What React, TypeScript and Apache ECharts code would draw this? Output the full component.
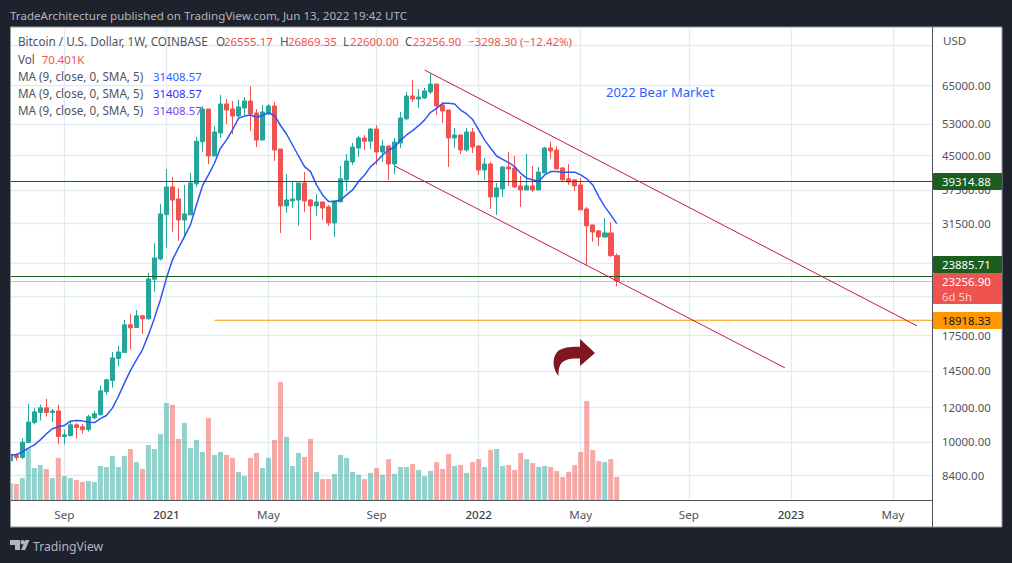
import React, { useEffect, useRef } from "react";
import * as echarts from "echarts";

// [open, close, low, high], one row per week from 2020-07-06
const ohlc: number[][] = [
  [9050,9340,9000,9490],[9320,9210,9060,9420],[9210,9980,9140,10190],[9960,11090,9930,12200],[11060,11700,10950,11930],
  [11660,11950,11180,12140],[11950,11660,11420,12530],[11660,11760,11090,11880],[11760,10280,9860,12140],[10280,10370,9860,10650],
  [10330,10930,10280,11180],[10930,10780,10170,11030],[10820,10660,10440,10990],[10660,11400,10550,11520],[11340,11580,11240,11760],
  [11520,13060,11480,13410],[13020,13840,12810,13920],[13790,15530,13290,16020],[15480,16020,14840,16540],[15970,18470,15970,18960],
  [18470,18180,16220,19560],[18210,19360,18210,19970],[19360,19060,17610,19460],[19060,23500,18960,24250],[23460,26240,21980,28340],
  [26100,33050,25870,34830],[32930,38080,27690,41800],[38080,35560,30070,40130],[35750,32020,28680,37880],[32020,33050,29180,38480],
  [32880,38880,32880,40980],[38680,48420,38080,49490],[48250,57310,45750,58230],[57310,44790,42950,57310],[44790,50800,44790,52420],
  [50540,58840,49230,61680],[58840,57000,52980,60400],[57310,55250,50270,59780],[55250,57930,54420,60090],[57620,59780,55540,61030],
  [59780,55840,51080,64660],[56130,48690,46950,57310],[48690,56430,48690,58530],[56130,58230,55540,58840],[58230,46220,43640,59470],
  [46450,34470,29910,46450],[34470,35560,33230,40760],[35380,35750,34100,39310],[35560,38880,31040,38880],[38880,35380,33400,41170],
  [35560,34470,28840,35750],[34470,35200,32710,36700],[35200,34100,32020,35200],[34280,31530,31040,34650],[31530,35380,29290,35380],
  [35200,39730,35200,42510],[39520,43640,37290,45270],[43410,46950,42730,47950],[46700,49230,44560,49750],[49230,48420,46220,50010],
  [48420,51600,46450,51870],[51600,45750,42730,52700],[45750,47200,43410,48690],[47200,42950,39520,47200],[42950,48200,40760,49230],
  [47950,54670,46700,56430],[54420,61360,54130,62660],[61360,60400,59470,66730],[60400,61030,57620,63650],[60710,63000,60400,63990],
  [62660,65340,62000,69000],[65340,58230,55540,65340],[58530,56700,53260,59470],[57000,49230,42280,57000],[49230,50010,46700,51870],
  [50010,46220,45270,50010],[46220,50800,45750,51870],[50800,46950,45510,51870],[47200,41620,40550,47450],[41620,42950,39520,44330],
  [42950,36130,33920,43410],[36130,37880,32880,38880],[37680,42280,36130,42510],[42280,41840,38280,45750],[42060,38080,37880,44790],
  [38280,37480,34280,40330],[37480,38280,37480,45270],[38280,37480,37100,42510],[37480,41170,37480,42280],[40980,46700,40980,46950],
  [46700,45990,44100,48200],[46220,41840,41840,47200],[42060,39520,39080,42280],[39730,39080,38480,42950],[39520,38280,37290,39520],
  [38480,33750,33750,39940],[33920,31040,25300,34280],[31200,30070,28580,31200],[30240,29290,27940,30240],[29290,29910,29130,32370],
  [29910,26555.17,26380,31700],[26555.17,23256.9,22600,26869.35],
];

// weekly volume in thousands of BTC
const volumes: number[] = [
  51,49,67,158,98,107,95,67,129,73,67,61,55,58,55,104,101,135,101,135,156,116,95,168,156,
  202,297,291,187,236,159,184,147,251,138,147,138,129,86,73,129,144,98,129,184,361,193,104,144,132,
  187,86,64,64,80,138,129,86,77,64,83,98,77,125,80,101,101,110,92,73,89,116,95,141,104,
  107,83,116,125,101,153,156,104,107,92,144,125,113,101,104,101,89,70,86,107,147,303,153,119,116,125,70.401,
];

// MA (9)
const movingAverage: number[] = [
  9340,9340,9490,9670,9840,10100,10420,10710,10820,10890,11140,11180,11160,11080,11060,11290,11480,11930,12680,13600,
  14530,15370,16200,17520,19130,21060,23590,25980,27610,29340,31200,34650,38280,40550,43110,46640,48690,51340,54570,55250,
  55540,54870,55400,56130,55400,52560,50270,47450,44790,42350,41270,38480,36510,35270,35270,35560,36510,37480,39170,40550,
  42350,43510,45030,46220,46880,48690,50010,51160,52510,54130,56320,57520,59030,59030,58840,57000,55840,54230,51340,48690,
  46640,44790,44020,43250,42350,40900,39870,39520,39170,40550,41270,41270,41140,41140,41140,40550,39730,38480,36190,34340,32880,31408.57,
];

const START_DATE = "2020-07-06";
const WEEK_COUNT = 154;
const xTickDates = ["2020-09-07","2021-01-04","2021-05-03","2021-09-06","2022-01-03","2022-05-02","2022-09-05","2023-01-02","2023-05-01"];
const xTickLabels = ["Sep","2021","May","Sep","2022","May","Sep","2023","May"];
const priceGrid = [80000,65000,53000,45000,37500,31500,25500,21500,17500,14500,12000,10000,8400];
const priceLabels = [65000,53000,45000,37500,31500,17500,14500,12000,10000,8400];

const support = 39314.88;
const resistance = 23885.71;
const lastPrice = 23256.9;
const target = 18918.33;
const targetStart = 34;
const upperChannel = [[69,70310],[151,18370]];
const lowerChannel = [[64,42510],[129,14740]];

const TITLE = "TradeArchitecture published on TradingView.com, Jun 13, 2022 19:42 UTC";
const SYMBOL = "Bitcoin / U.S. Dollar, 1W, COINBASE";
const MA_LABEL = "MA (9, close, 0, SMA, 5)";
const OHLC_LEGEND: [string, string, number, number][] = [
  ["O", "26555.17", 216, 224],
  ["H", "26869.35", 280, 288],
  ["L", "22600.00", 343, 350],
  ["C", "23256.90", 405, 412.7],
];
const CHANGE = "−3298.30 (−12.42%)";
const VOLUME_LAST = "70.401K";
const MA_LAST = "31408.57";

const UP = "#26a69a";
const DOWN = "#ef5350";
const GRID = "#e1ecf2";
const DARK = "#1e222d";
const TEXT = "#50535e";
const FONT = "Noto Sans";

const weekDate = (i: number) => {
  const d = new Date(START_DATE + "T00:00:00Z");
  d.setUTCDate(d.getUTCDate() + i * 7);
  return d.toISOString().slice(0, 10);
};

const txt = (text: string, x: number, y: number, fill: string, size: number) => ({
  type: "text", z: 61, x, y,
  style: { text, fill, font: `${size}px "${FONT}"`, textVerticalAlign: "middle" },
});

export default function App() {
  const ref = useRef<HTMLDivElement>(null);
  useEffect(() => {
    document.body.style.margin = "0";
    document.body.style.background = DARK;
    echarts.graphic.registerShape("arrowMark", echarts.graphic.extendPath(
      "M558.5 376 C552 368 552 357 558 351 C563 347 572 346.5 580 346.7 L580 339 L595 353 L580 366 L580 358.5 C572 358 565 359 561.5 363 C558.5 367 558.5 372 558.5 376 Z", {}));
    echarts.graphic.registerShape("tvMark", echarts.graphic.extendPath(
      "M10 540 H20 V550 H15 V545 H10 Z M22.7 540 a2.3 2.3 0 1 1 0 4.6 a2.3 2.3 0 1 1 0 -4.6 Z M25.5 540 H29.5 L25.2 550 H21 Z", {}));
    const chart = echarts.init(ref.current!, null, { renderer: "svg" });
    const categories = Array.from({ length: WEEK_COUNT }, (_, i) => weekDate(i));
    const hline = (value: number, color: string, type: string) => ({
      yAxis: value,
      lineStyle: { color, width: 1, type, opacity: 1 },
    });
    const label = (text: string, y: number, h: number, bg: string, fg: string) => [
      { type: "rect", z: 60, shape: { x: 933, y, width: 69, height: h, r: 1 }, style: { fill: bg } },
      txt(text, 942, y + 8.5, fg, 11.4),
    ];
    chart.setOption({
      animation: false,
      backgroundColor: DARK,
      textStyle: { fontFamily: FONT },
      grid: { left: 7.3, top: 29, width: 924.7, height: 471, containLabel: false },
      xAxis: {
        type: "category",
        data: categories,
        boundaryGap: true,
        axisLine: { lineStyle: { color: TEXT, width: 1 } },
        axisTick: { show: false },
        splitLine: { show: false },
        axisLabel: {
          interval: (_: number, v: string) => xTickDates.includes(v),
          formatter: (v: string) => {
            const t = xTickLabels[xTickDates.indexOf(v)];
            return /^\d+$/.test(t) ? `{y|${t}}` : t;
          },
          color: TEXT,
          fontSize: 11.6,
          fontFamily: FONT,
          margin: 8,
          hideOverlap: false,
          rich: { y: { color: "#3c3f49", fontSize: 11.6, fontWeight: 500, fontFamily: FONT } },
        },
      },
      yAxis: [
        {
          type: "log",
          logBase: 10,
          min: 7368,
          max: 87200,
          position: "right",
          axisLine: { show: false },
          axisTick: { show: false },
          splitLine: { show: false },
          axisLabel: {
            customValues: priceLabels,
            formatter: (v: number) => Number(v).toFixed(2),
            color: TEXT,
            fontSize: 11.4,
            fontFamily: FONT,
            margin: 10,
            showMinLabel: true,
            showMaxLabel: true,
          },
        },
        { type: "value", min: 0, max: 1441.3, show: false, splitLine: { show: false } },
      ],
      series: [
        {
          type: "line",
          data: [],
          z: 0,
          silent: true,
          markLine: {
            z: 0,
            silent: true,
            symbol: "none",
            animation: false,
            label: { show: false },
            lineStyle: { color: GRID, width: 1.3, type: "solid", opacity: 1 },
            data: [
              ...xTickDates.map((d) => ({ xAxis: d })),
              ...priceGrid.map((v) => ({ yAxis: v })),
            ],
          },
        },
        {
          name: "Volume",
          type: "bar",
          yAxisIndex: 1,
          barWidth: 5,
          z: 1,
          data: volumes.map((v, i) => ({
            value: v,
            itemStyle: { color: ohlc[i][1] >= ohlc[i][0] ? UP : DOWN, opacity: 0.5 },
          })),
        },
        {
          name: "BTCUSD",
          type: "candlestick",
          barWidth: 5,
          z: 3,
          data: ohlc,
          itemStyle: { color: UP, color0: DOWN, borderColor: UP, borderColor0: DOWN, borderWidth: 1 },
        },
        {
          name: "MA",
          type: "line",
          z: 4,
          symbol: "none",
          smooth: false,
          lineStyle: { color: "#2f55f5", width: 1.5 },
          data: movingAverage,
        },
        {
          name: "Levels",
          type: "line",
          z: 5,
          data: [],
          markLine: {
            z: 5,
            silent: true,
            symbol: "none",
            animation: false,
            label: { show: false },
            data: [
              hline(support, "#1b5e20", "solid"),
              hline(resistance, "#1b5e20", "solid"),
              hline(lastPrice, DOWN, "dotted"),
            ],
          },
        },
        {
          name: "Target",
          type: "line",
          z: 5,
          symbol: "none",
          lineStyle: { color: "#ff9800", width: 1 },
          data: [[targetStart, target], [WEEK_COUNT, target]],
        },
        {
          name: "Upper channel",
          type: "line",
          z: 5,
          symbol: "none",
          lineStyle: { color: "#c2185b", width: 1 },
          data: upperChannel,
        },
        {
          name: "Lower channel",
          type: "line",
          z: 5,
          symbol: "none",
          lineStyle: { color: "#c2185b", width: 1 },
          data: lowerChannel,
        },
      ],
      graphic: [
        { type: "rect", z: -10, shape: { x: 10, y: 27, width: 992, height: 500 }, style: { fill: "#ffffff", stroke: "#9598a1", lineWidth: 1 } },
        { type: "rect", z: 50, shape: { x: 0, y: 27, width: 10, height: 500 }, style: { fill: DARK } },
        { type: "line", z: 51, shape: { x1: 10.5, y1: 27, x2: 10.5, y2: 527 }, style: { stroke: "#9598a1", lineWidth: 1 } },
        { type: "line", z: 51, shape: { x1: 932.5, y1: 27, x2: 932.5, y2: 527 }, style: { stroke: TEXT, lineWidth: 1 } },
        txt(TITLE, 10, 15, "#b2b5be", 11.6),
        txt(SYMBOL, 18, 41, TEXT, 11.7),
        ...OHLC_LEGEND.flatMap(([k, v, kx, vx]) => [txt(k, kx, 41, TEXT, 11.7), txt(v, vx, 41, DOWN, 11.4)]),
        txt(CHANGE, 468.3, 41, DOWN, 11.4),
        txt("Vol", 18, 59, TEXT, 11.7),
        txt(VOLUME_LAST, 41.7, 59, DOWN, 11.4),
        ...([["#2962ff", 76], ["#3d2bff", 93], ["#7b3ff2", 110]] as [string, number][]).flatMap(([c, y]) => [
          txt(MA_LABEL, 18, y, TEXT, 11.7),
          txt(MA_LAST, 153, y, c, 11.4),
        ]),
        txt("2022 Bear Market", 606, 92, "#2962ff", 13),
        { type: "arrowMark", z: 52, style: { fill: "#7f1622" } },
        txt("USD", 943, 40, TEXT, 11.6),
        ...label("39314.88", 173, 17, "#1b5e20", "#ffffff"),
        ...label("23885.71", 256, 17, "#1b5e20", "#ffffff"),
        { type: "rect", z: 60, shape: { x: 933, y: 273, width: 69, height: 31, r: 1 }, style: { fill: DOWN } },
        txt("23256.90", 942, 281.5, "#ffffff", 11.4),
        txt("6d 5h", 942, 296, "#ffd0cf", 11.4),
        ...label("18918.33", 312, 17, "#ff9800", "#131722"),
        { type: "tvMark", z: 52, style: { fill: "#b2b5be" } },
        txt("TradingView", 33, 546, "#b2b5be", 12.2),
      ],
    });
    return () => chart.dispose();
  }, []);
  return <div ref={ref} style={{ position: "absolute", left: 0, top: 0, width: 1012, height: 563 }} />;
}
